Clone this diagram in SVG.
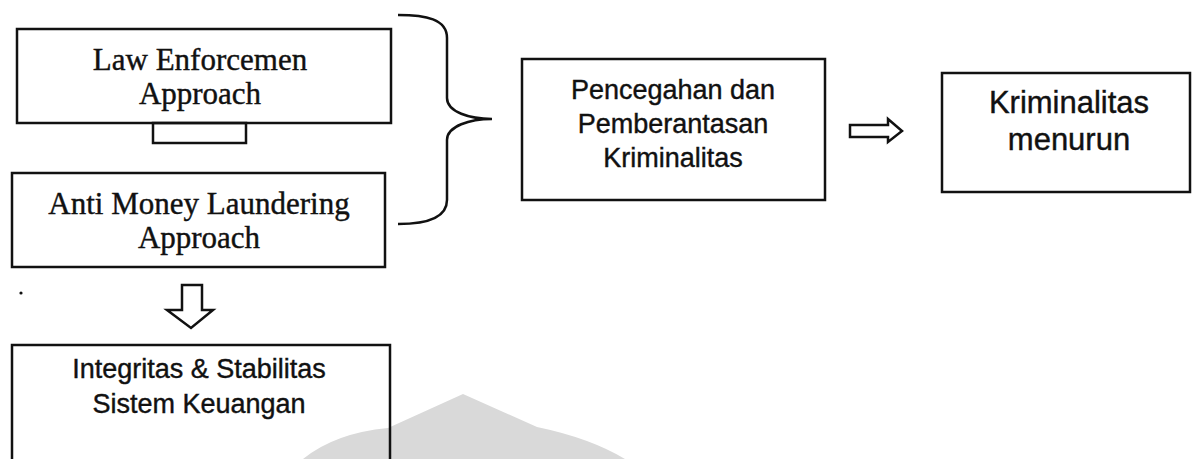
<svg xmlns="http://www.w3.org/2000/svg" width="1195" height="459" viewBox="0 0 1195 459">
<style>
.box{fill:none;stroke:#111;stroke-width:2.5}
.serif{font-family:"Liberation Serif","Times New Roman",serif;font-size:31px;fill:#111;stroke:#111;stroke-width:0.4;text-anchor:middle}
.sans{font-family:"Liberation Sans",Arial,sans-serif;font-size:27px;fill:#111;stroke:#111;stroke-width:0.4;text-anchor:middle}
.conn{fill:none;stroke:#111;stroke-width:2.5;stroke-linejoin:miter}
</style>
<rect width="1195" height="459" fill="#fff"/>
<path id="watermark" d="M303,459 Q335,433 388,428 L463,394 L537,427 Q590,438 625,459 Z" fill="#d9d9d9"/>
<circle cx="21" cy="293" r="1.6" fill="#111"/>
<g id="n-law">
<rect class="box" x="17" y="29" width="374" height="94"/>
<rect class="box" x="153" y="123" width="93" height="20"/>
<text class="serif" x="200" y="70">Law Enforcemen</text>
<text class="serif" x="200" y="104">Approach</text>
</g>
<g id="n-aml">
<rect class="box" x="12" y="173" width="373" height="94"/>
<text class="serif" x="199" y="214">Anti Money Laundering</text>
<text class="serif" x="199" y="248">Approach</text>
</g>
<g id="n-pencegahan">
<rect class="box" x="522" y="59" width="303" height="141"/>
<text class="sans" x="673" y="99">Pencegahan dan</text>
<text class="sans" x="673" y="133">Pemberantasan</text>
<text class="sans" x="673" y="167">Kriminalitas</text>
</g>
<g id="n-menurun">
<rect class="box" x="942" y="73" width="248" height="119"/>
<text class="sans" x="1069" y="113" style="font-size:31px">Kriminalitas</text>
<text class="sans" x="1069" y="150" style="font-size:31px">menurun</text>
</g>
<g id="n-integritas">
<rect class="box" x="12" y="345" width="378" height="130"/>
<text class="sans" x="199" y="378">Integritas &amp; Stabilitas</text>
<text class="sans" x="199" y="413">Sistem Keuangan</text>
</g>
<g id="connectors">
<path class="conn" stroke-width="3" d="M398,15 C426,15 447,19 447,38 L447,98 C447,112 470,119 492,119 C470,119 447,126 447,140 L447,200 C447,218 426,224 398,224"/>
<path class="conn" d="M850,125 L888,125 L888,119 L902,131 L888,142 L888,137 L850,137 Z"/>
<path class="conn" d="M182,285 L202,285 L202,310 L213,310 L191,328 L167,310 L182,310 Z"/>
</g>
</svg>
